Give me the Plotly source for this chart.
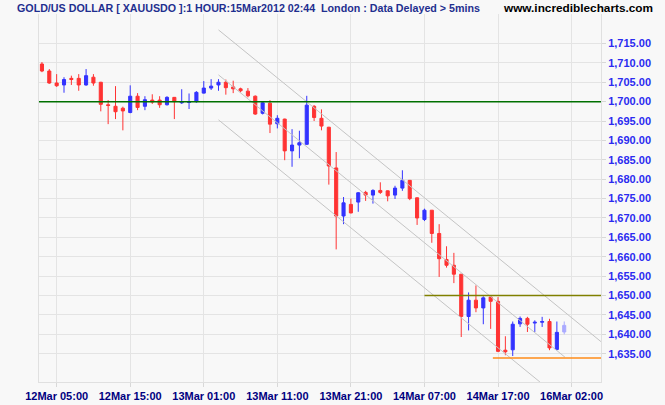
import plotly.graph_objects as go

# ---- data (hourly candles, index 0 = 12Mar 03:00) ----
opens = [1709.7, 1707.9, 1704.8, 1704.3, 1706.0, 1706.0, 1704.3, 1706.3, 1705.0, 1699.2,
         1698.8, 1698.3, 1697.2, 1701.4, 1698.8, 1700.4, 1700.4, 1699.2, 1701.1, 1699.7,
         1699.8, 1700.0, 1702.2, 1703.5, 1704.3, 1705.0, 1703.8, 1703.3, 1702.7, 1701.4,
         1697.0, 1699.6, 1694.3, 1695.5, 1687.3, 1688.8, 1689.0, 1698.8, 1695.7, 1693.4,
         1682.9, 1670.5, 1673.5, 1674.1, 1676.6, 1675.9, 1677.1, 1677.0, 1675.9, 1677.7,
         1679.7, 1675.2, 1669.6, 1672.0, 1666.0, 1659.3, 1657.8, 1655.5, 1644.6, 1648.8,
         1646.8, 1649.6, 1648.5, 1635.9, 1636.0, 1642.7, 1644.1, 1642.9, 1643.1, 1643.3,
         1636.1, 1640.6]
highs = [1710.2, 1708.4, 1707.1, 1706.3, 1706.7, 1707.1, 1708.4, 1707.1, 1705.1, 1700.4,
         1704.0, 1698.7, 1704.2, 1702.2, 1701.4, 1701.9, 1701.4, 1701.4, 1701.2, 1703.2,
         1702.1, 1702.7, 1705.3, 1705.8, 1705.8, 1705.7, 1705.4, 1703.6, 1703.5, 1701.6,
         1699.9, 1700.4, 1696.5, 1695.6, 1692.9, 1692.5, 1701.5, 1699.1, 1698.0, 1693.5,
         1687.0, 1675.4, 1675.0, 1676.7, 1677.0, 1677.4, 1679.2, 1677.1, 1678.3, 1682.3,
         1679.8, 1675.3, 1672.4, 1672.0, 1668.4, 1662.7, 1661.0, 1655.5, 1650.8, 1652.6,
         1649.8, 1650.0, 1649.6, 1639.5, 1643.3, 1644.6, 1644.5, 1643.6, 1644.5, 1644.0,
         1643.3, 1643.3]
lows = [1707.6, 1704.6, 1703.8, 1702.3, 1704.3, 1702.8, 1704.1, 1704.1, 1697.5, 1694.2,
        1695.5, 1692.6, 1697.0, 1697.8, 1697.8, 1699.4, 1698.4, 1699.0, 1695.5, 1699.4,
        1698.1, 1699.7, 1702.1, 1703.0, 1702.8, 1701.8, 1702.2, 1702.4, 1701.1, 1696.6,
        1696.7, 1691.9, 1693.1, 1684.9, 1683.2, 1685.4, 1688.8, 1695.0, 1692.6, 1678.6,
        1661.9, 1668.4, 1671.2, 1671.6, 1674.4, 1673.7, 1676.2, 1674.3, 1674.9, 1677.0,
        1674.6, 1668.2, 1669.2, 1663.6, 1654.8, 1657.2, 1653.2, 1639.3, 1641.0, 1645.7,
        1642.6, 1641.4, 1635.4, 1634.6, 1634.4, 1641.9, 1640.6, 1640.6, 1641.9, 1635.9,
        1635.9, 1640.0]
closes = [1707.9, 1704.8, 1704.1, 1705.7, 1705.7, 1704.3, 1706.7, 1704.8, 1699.3, 1699.0,
          1697.4, 1697.6, 1701.4, 1698.5, 1700.5, 1699.9, 1699.2, 1701.1, 1700.0, 1700.0,
          1699.9, 1702.4, 1703.5, 1704.0, 1705.0, 1703.6, 1703.3, 1702.8, 1701.5, 1696.8,
          1699.7, 1694.2, 1695.7, 1687.3, 1688.8, 1689.4, 1699.1, 1695.9, 1693.7, 1683.4,
          1670.5, 1673.9, 1671.3, 1676.5, 1675.9, 1677.1, 1676.6, 1675.7, 1677.7, 1679.7,
          1675.0, 1670.0, 1672.0, 1666.0, 1659.5, 1657.8, 1655.5, 1644.6, 1648.8, 1646.8,
          1649.4, 1648.5, 1635.6, 1635.5, 1642.6, 1644.1, 1642.6, 1643.1, 1643.3, 1636.5,
          1640.5, 1642.3]
idx = list(range(len(opens)))

tick_idx = [2, 12, 22, 32, 42, 52, 62, 72]
tick_labels = ["12Mar 05:00", "12Mar 15:00", "13Mar 01:00", "13Mar 11:00",
               "13Mar 21:00", "14Mar 07:00", "14Mar 17:00", "16Mar 02:00"]
y_ticks = list(range(1635, 1716, 5))

# support / resistance levels: (price, start index)
level_green = (1700.0, -0.4)
level_olive = (1650.0, 52.0)
level_orange = (1633.9, 61.3)

# trend channel lines: (x0, y0, x1, y1)
channel_upper = (24.0, 1718.5, 76.0, 1638.1)
channel_middle = (24.0, 1706.9, 71.1, 1634.1)
channel_lower = (24.0, 1695.3, 67.7, 1627.7)

X_RANGE = [-0.4, 76.0]
Y_RANGE = [1627.7, 1722.6]

RED = "#FF3333"
BLUE = "#3333FF"
LIGHT = "#AAAAFF"
BG = "#F8F8F8"

ML, MR, MT, MB = 39, 64, 14, 23
PW = 665 - ML - MR

fig = go.Figure()
fig.add_trace(go.Candlestick(
    x=idx[:-1], open=opens[:-1], high=highs[:-1], low=lows[:-1], close=closes[:-1],
    increasing=dict(line=dict(color=BLUE, width=1), fillcolor=BLUE),
    decreasing=dict(line=dict(color=RED, width=1), fillcolor=RED),
    whiskerwidth=0, showlegend=False, hoverinfo="skip"))
fig.add_trace(go.Candlestick(
    x=idx[-1:], open=opens[-1:], high=highs[-1:], low=lows[-1:], close=closes[-1:],
    increasing=dict(line=dict(color=LIGHT, width=1), fillcolor=LIGHT),
    decreasing=dict(line=dict(color=LIGHT, width=1), fillcolor=LIGHT),
    whiskerwidth=0, showlegend=False, hoverinfo="skip"))

for (x0, y0, x1, y1) in [channel_upper, channel_middle, channel_lower]:
    fig.add_shape(type="line", xref="x", yref="y", x0=x0, y0=y0, x1=x1, y1=y1,
                  line=dict(color="#C4C4C4", width=1))

for (price, start), col in [(level_green, "#007000"), (level_olive, "#808000"),
                            (level_orange, "#FF8C1A")]:
    fig.add_shape(type="line", xref="x", yref="y", x0=start, x1=X_RANGE[1],
                  y0=price, y1=price, line=dict(color=col, width=1.5))

fig.add_annotation(xref="paper", yref="paper", x=(15 - ML) / PW, y=1.0, yshift=6,
                   xanchor="left", yanchor="middle", showarrow=False,
                   text="GOLD/US DOLLAR [ XAUUSDO ]:1 HOUR:15Mar2012 02:44  London : Data Delayed > 5mins",
                   font=dict(family="Liberation Sans, Arial, sans-serif",
                             size=10.7, color="#1F2F8F", weight="bold"))
fig.add_annotation(xref="paper", yref="paper", x=(655 - ML) / PW, y=1.0, yshift=6,
                   xanchor="right", yanchor="middle", showarrow=False,
                   text="www.incrediblecharts.com",
                   font=dict(family="Liberation Sans, Arial, sans-serif",
                             size=11.8, color="#000000", weight="bold"))

fig.update_layout(
    width=665, height=405,
    margin=dict(l=ML, r=MR, t=MT, b=MB, autoexpand=False),
    paper_bgcolor=BG, plot_bgcolor=BG,
    boxgap=0.4,
    showlegend=False,
    xaxis=dict(range=X_RANGE, rangeslider=dict(visible=False), automargin=False,
               tickmode="array", tickvals=tick_idx, ticktext=tick_labels,
               showgrid=True, gridcolor="#E4E4E4", gridwidth=1,
               zeroline=False, showline=True, linecolor="#E0E0E0", linewidth=1,
               ticks="outside", ticklen=4, tickcolor="#D8D8D8",
               tickfont=dict(family="Liberation Sans, Arial, sans-serif", size=11,
                             color="#000080", weight="bold")),
    yaxis=dict(range=Y_RANGE, side="right", tickmode="array", tickvals=y_ticks,
               tickformat=",.2f", automargin=False,
               showgrid=True, gridcolor="#E4E4E4", gridwidth=1,
               zeroline=False, showline=True, mirror=True, linecolor="#E0E0E0", linewidth=1,
               ticks="outside", ticklen=4, tickcolor="#D8D8D8",
               tickfont=dict(family="Liberation Sans, Arial, sans-serif", size=11,
                             color="#2B2BF0", weight="bold")),
)

fig.write_html("out.html",
               config={"displayModeBar": False},
               post_script="document.body.style.margin='0';"
                           "document.body.style.background='%s';" % BG)
